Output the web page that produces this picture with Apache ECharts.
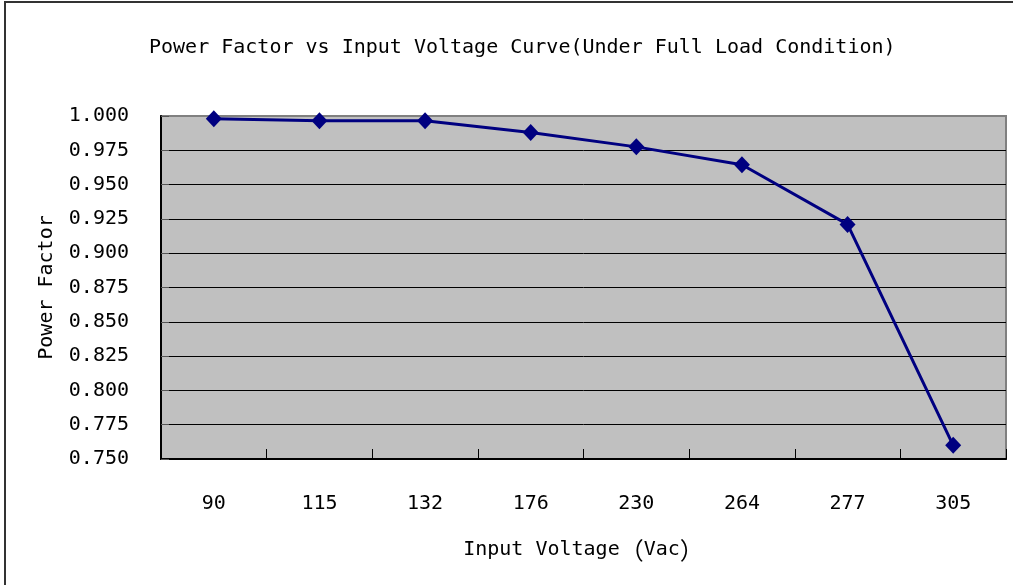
<!DOCTYPE html>
<html>
<head>
<meta charset="utf-8">
<script src="https://cdn.jsdelivr.net/npm/echarts@6/dist/echarts.min.js"></script>
<style>
    html, body { margin: 0; padding: 0; background: #ffffff; overflow: hidden; width: 1013px; height: 585px; }
    #frame {
        position: absolute;
        left: 4px;
        top: 1px;
        width: 1009px;
        height: 584px;
        border-left: 2px solid #333333;
        border-top: 2px solid #333333;
        box-sizing: border-box;
    }
    #chart { position: absolute; left: 0; top: 0; width: 1013px; height: 585px; }
</style>
</head>
<body>
<div id="frame"></div>
<div id="chart"></div>
<script>
const voltages = ["90", "115", "132", "176", "230", "264", "277", "305"];
const powerFactor = [0.998, 0.9965, 0.9965, 0.988, 0.9775, 0.9645, 0.921, 0.760];
const yTicks = { min: 0.75, max: 1.0, step: 0.025 };

const font = "'DejaVu Sans Mono', 'Liberation Mono', 'Noto Sans CJK JP', monospace";

// split lines: black inside, the top one sits on the grey frame
const splitColors = [];
for (let i = 0; i < 10; i++) {
    splitColors.push("#000000");
}
splitColors.push("#808080");

const chart = echarts.init(document.getElementById("chart"), null, { renderer: "canvas" });

const option = {
    animation: false,
    title: {
        text: "Power Factor vs Input Voltage Curve(Under Full Load Condition)",
        left: 144,
        top: 33,
        textStyle: {
            fontFamily: font,
            fontSize: 20,
            fontWeight: "normal",
            color: "#000000"
        }
    },
    grid: {
        left: 161,
        top: 116,
        right: 7,
        bottom: 126,
        show: true,
        backgroundColor: "#c0c0c0",
        borderColor: "#808080",
        borderWidth: 2
    },
    xAxis: {
        type: "category",
        data: voltages,
        boundaryGap: true,
        name: "Input Voltage{p|（}Vac{p|）}",
        nameLocation: "middle",
        nameGap: 79,
        nameTextStyle: {
            fontFamily: font,
            fontSize: 20,
            color: "#000000",
            rich: {
                p: {
                    fontFamily: "Noto Sans CJK JP",
                    fontSize: 24,
                    color: "#000000"
                }
            }
        },
        axisLine: {
            lineStyle: { color: "#000000", width: 2 }
        },
        axisTick: {
            show: true,
            inside: true,
            length: 10,
            lineStyle: { color: "#000000", width: 1 }
        },
        axisLabel: {
            margin: 35,
            fontFamily: font,
            fontSize: 20,
            color: "#000000"
        },
        splitLine: { show: false }
    },
    yAxis: {
        type: "value",
        min: yTicks.min,
        max: yTicks.max,
        interval: yTicks.step,
        name: "Power Factor",
        nameLocation: "middle",
        nameGap: 104,
        nameTextStyle: {
            fontFamily: font,
            fontSize: 20,
            color: "#000000"
        },
        axisLine: {
            show: true,
            lineStyle: { color: "#000000", width: 2 }
        },
        axisTick: {
            show: true,
            inside: true,
            length: 8,
            lineStyle: { color: "#555555", width: 1 }
        },
        axisLabel: {
            margin: 32,
            fontFamily: font,
            fontSize: 20,
            color: "#000000",
            formatter: function (value) {
                return Number(value).toFixed(3);
            }
        },
        splitLine: {
            show: true,
            lineStyle: { color: splitColors, width: 1 }
        }
    },
    series: [
        {
            type: "line",
            data: powerFactor,
            symbol: "diamond",
            symbolSize: [16, 17],
            lineStyle: { color: "#000080", width: 3 },
            itemStyle: { color: "#000080" }
        }
    ]
};

chart.setOption(option);
</script>
</body>
</html>
